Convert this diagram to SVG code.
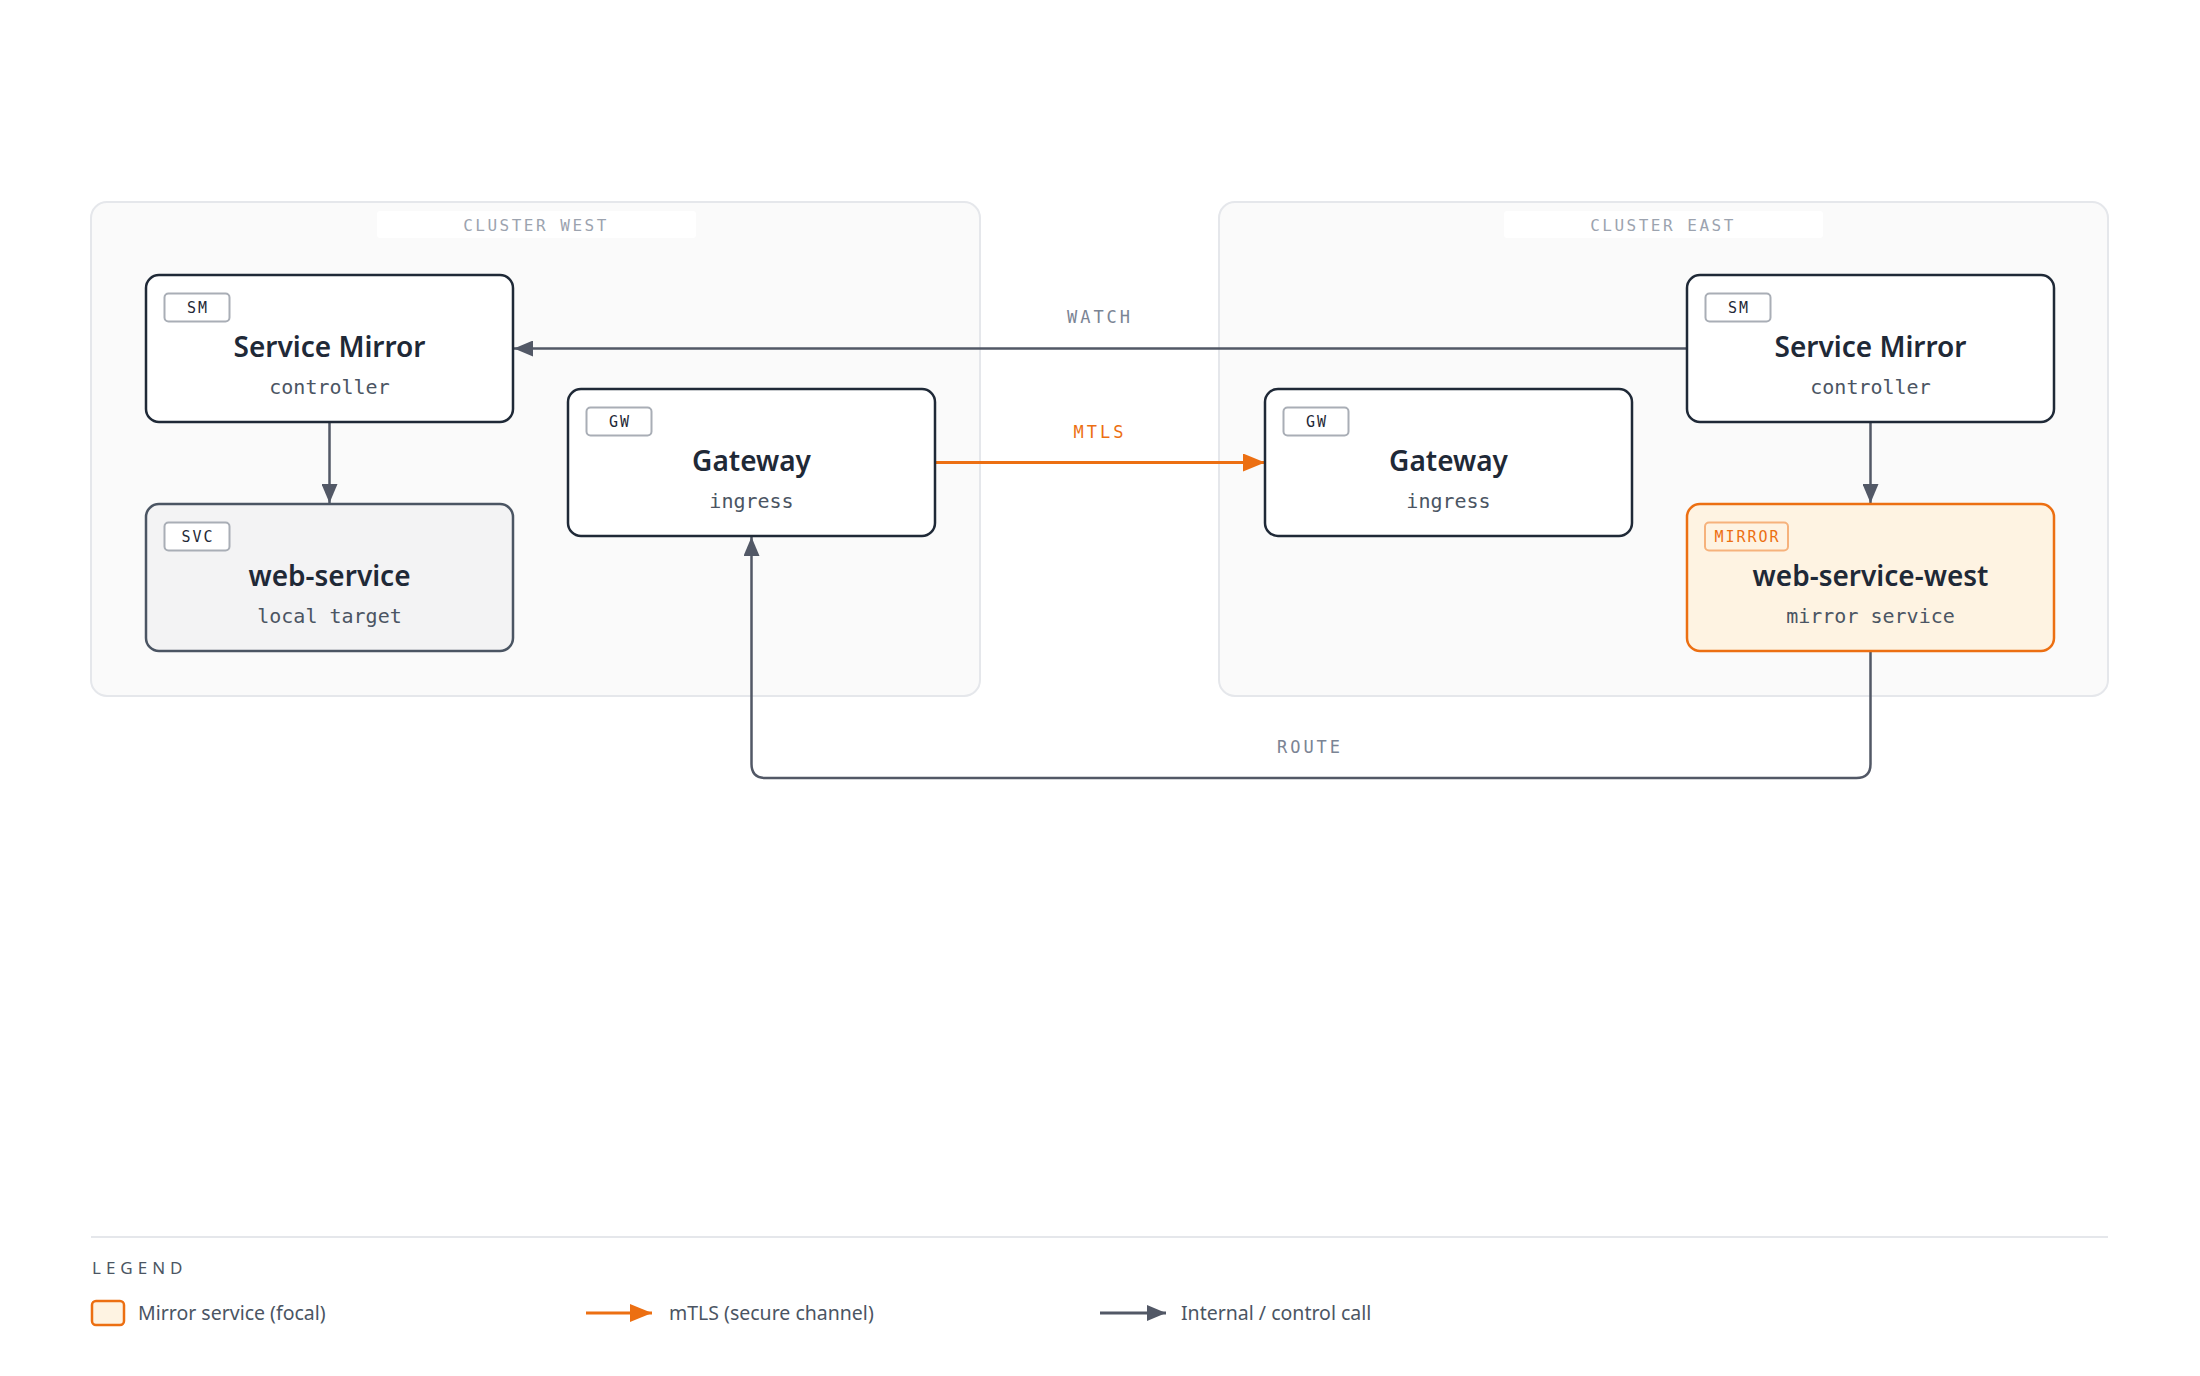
<svg xmlns="http://www.w3.org/2000/svg" width="2200" height="1376" viewBox="0 0 2200 1376">
<style>
.cluster{fill:#fafafa;stroke:#e5e7eb;stroke-width:2}
.clabelbg{fill:#ffffff}
.clabel{font-family:"DejaVu Sans Mono",monospace;font-size:16px;letter-spacing:2.5px;fill:#9ca3af;text-anchor:middle}
.node{fill:#ffffff;stroke:#1f2937;stroke-width:2.5}
.svc{fill:#f3f3f4;stroke:#4b5563;stroke-width:2.5}
.mirror{fill:#fef3e2;stroke:#ec6f12;stroke-width:2.5}
.badge{fill:#ffffff;stroke:#a9aeb6;stroke-width:2}
.badge-m{fill:#fef3e2;stroke:#f6b27c;stroke-width:2}
.btext{font-family:"DejaVu Sans Mono",monospace;font-size:15px;letter-spacing:2px;fill:#1f2937;text-anchor:middle}
.btext-m{fill:#ec6f12}
.title{font-family:"Noto Sans",sans-serif;font-size:28px;font-weight:600;fill:#1f2937;text-anchor:middle}
.sub{font-family:"DejaVu Sans Mono",monospace;font-size:20px;fill:#4b5563;text-anchor:middle}
.edge{fill:none;stroke:#525866;stroke-width:2.5}
.edge-o{fill:none;stroke:#ec6f12;stroke-width:3}
.elabel{font-family:"DejaVu Sans Mono",monospace;font-size:17px;letter-spacing:3px;fill:#7b8494;text-anchor:middle}
.elabel-o{fill:#ec6f12}
.legtitle{font-family:"Noto Sans",sans-serif;font-size:17px;letter-spacing:5px;fill:#4b5563}
.legtext{font-family:"Noto Sans",sans-serif;font-size:19.5px;fill:#4b5563}
</style>
<defs>
<marker id="ag" markerUnits="userSpaceOnUse" markerWidth="20" markerHeight="16" refX="19" refY="8" orient="auto">
<path d="M0,0 L19,8 L0,16 Z" fill="#525866"/>
</marker>
<marker id="ao" markerUnits="userSpaceOnUse" markerWidth="23" markerHeight="18" refX="22" refY="9" orient="auto">
<path d="M0,0 L22,9 L0,18 Z" fill="#ec6f12"/>
</marker>
</defs>
<rect width="2200" height="1376" fill="#ffffff"/>

<g id="cluster-west">
<rect class="cluster" x="91" y="202" width="889" height="494" rx="16"/>
<rect class="clabelbg" x="377" y="211" width="319" height="27" rx="3"/>
<text class="clabel" x="536" y="231">CLUSTER WEST</text>
</g>
<g id="cluster-east">
<rect class="cluster" x="1219" y="202" width="889" height="494" rx="16"/>
<rect class="clabelbg" x="1504" y="211" width="319" height="27" rx="3"/>
<text class="clabel" x="1663" y="231">CLUSTER EAST</text>
</g>

<g id="connectors">
<line class="edge" x1="1687" y1="348.5" x2="514" y2="348.5" marker-end="url(#ag)"/>
<text class="elabel" x="1100" y="323">WATCH</text>
<line class="edge-o" x1="936" y1="462.5" x2="1265" y2="462.5" marker-end="url(#ao)"/>
<text class="elabel elabel-o" x="1100" y="438">MTLS</text>
<line class="edge" x1="329.5" y1="422" x2="329.5" y2="503" marker-end="url(#ag)"/>
<line class="edge" x1="1870.5" y1="422" x2="1870.5" y2="503" marker-end="url(#ag)"/>
<path class="edge" d="M1870.5,651 V764 Q1870.5,778 1856.5,778 H765.5 Q751.5,778 751.5,764 V537" marker-end="url(#ag)"/>
<text class="elabel" x="1310" y="753">ROUTE</text>
</g>

<g id="sm-west">
<rect class="node" x="146" y="275" width="367" height="147" rx="13"/>
<rect class="badge" x="164.5" y="293.5" width="65" height="28" rx="4"/>
<text class="btext" x="198" y="313">SM</text>
<text class="title" x="329.5" y="357">Service Mirror</text>
<text class="sub" x="329.5" y="394">controller</text>
</g>
<g id="svc-west">
<rect class="svc" x="146" y="504" width="367" height="147" rx="13"/>
<rect class="badge" x="164.5" y="522.5" width="65" height="28" rx="4"/>
<text class="btext" x="198" y="542">SVC</text>
<text class="title" x="329.5" y="586">web-service</text>
<text class="sub" x="329.5" y="623">local target</text>
</g>
<g id="gw-west">
<rect class="node" x="568" y="389" width="367" height="147" rx="13"/>
<rect class="badge" x="586.5" y="407.5" width="65" height="28" rx="4"/>
<text class="btext" x="620" y="427">GW</text>
<text class="title" x="751.5" y="471">Gateway</text>
<text class="sub" x="751.5" y="508">ingress</text>
</g>
<g id="gw-east">
<rect class="node" x="1265" y="389" width="367" height="147" rx="13"/>
<rect class="badge" x="1283.5" y="407.5" width="65" height="28" rx="4"/>
<text class="btext" x="1317" y="427">GW</text>
<text class="title" x="1448.5" y="471">Gateway</text>
<text class="sub" x="1448.5" y="508">ingress</text>
</g>
<g id="sm-east">
<rect class="node" x="1687" y="275" width="367" height="147" rx="13"/>
<rect class="badge" x="1705.5" y="293.5" width="65" height="28" rx="4"/>
<text class="btext" x="1739" y="313">SM</text>
<text class="title" x="1870.5" y="357">Service Mirror</text>
<text class="sub" x="1870.5" y="394">controller</text>
</g>
<g id="mirror-east">
<rect class="mirror" x="1687" y="504" width="367" height="147" rx="13"/>
<rect class="badge-m" x="1705" y="522.5" width="83" height="28" rx="4"/>
<text class="btext btext-m" x="1747.5" y="542">MIRROR</text>
<text class="title" x="1870.5" y="586">web-service-west</text>
<text class="sub" x="1870.5" y="623">mirror service</text>
</g>

<g id="legend">
<line x1="91" y1="1237" x2="2108" y2="1237" stroke="#e5e7eb" stroke-width="2"/>
<text class="legtitle" x="92" y="1274">LEGEND</text>
<rect x="92" y="1301" width="32" height="24" rx="4" fill="#fef3e2" stroke="#ec6f12" stroke-width="2.5"/>
<text class="legtext" x="138" y="1320">Mirror service (focal)</text>
<line x1="586" y1="1313" x2="652" y2="1313" stroke="#ec6f12" stroke-width="3" marker-end="url(#ao)"/>
<text class="legtext" x="669" y="1320">mTLS (secure channel)</text>
<line x1="1100" y1="1313" x2="1166" y2="1313" stroke="#525866" stroke-width="3" marker-end="url(#ag)"/>
<text class="legtext" x="1181" y="1320">Internal / control call</text>
</g>
</svg>
